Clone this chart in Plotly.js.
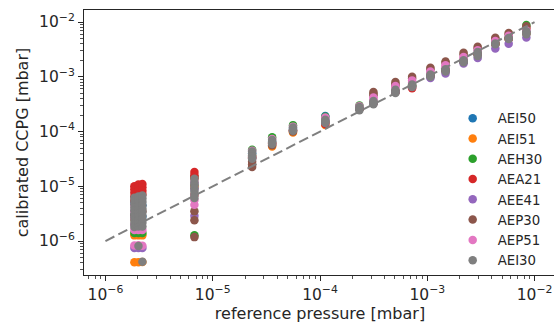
<!DOCTYPE html>
<html><head><meta charset="utf-8">
<script src="https://cdn.plot.ly/plotly-3.0.1.min.js"></script>
<style>html,body{margin:0;padding:0;overflow:hidden;background:#fff}#chart{width:556px;height:327px}</style>
</head><body><div id="chart"></div><script>
// reference pressures [mbar] of the measurement points
const refP = [1.86e-6, 2.03e-6, 2.21e-6, 6.75e-6, 2.33e-5, 3.58e-5, 5.6e-5, 1.12e-4, 2.33e-4, 3.15e-4,
              5.05e-4, 7.22e-4, 1.07e-3, 1.48e-3, 2.18e-3, 2.95e-3, 4.31e-3, 5.74e-3, 8.39e-3];

const seriesNames  = ['AEI50','AEI51','AEH30','AEA21','AEE41','AEP30','AEP51','AEI30'];
const seriesColors = ['#1f77b4','#ff7f0e','#2ca02c','#d62728','#9467bd','#8c564b','#e377c2','#7f7f7f'];

// calibrated CCPG readings [mbar], one list per reference pressure
const AEI50 = [[3.0e-6,5.0e-6],[3.2e-6],[2.8e-6,4.5e-6],[1.1e-5,9e-6],[4.0e-5,3.6e-5],[6.6e-5],[1.12e-4],[1.92e-4,1.6e-4],[2.7e-4],[3.4e-4],
               [5.4e-4],[6.8e-4],[1.05e-3],[1.3e-3],[1.9e-3],[2.6e-3],[4.0e-3],[5.0e-3],[6.4e-3]];
const AEI51 = [[1.27e-6,4.1e-7,2.5e-6],[1.27e-6,4.1e-7],[1.27e-6,4.15e-7],[1.0e-5,7e-6],[3.6e-5],[5.35e-5,6.2e-5],[9.6e-5,1.05e-4],[1.32e-4,1.5e-4],[2.6e-4],[3.4e-4],
               [5.3e-4],[6.7e-4],[1.05e-3],[1.3e-3],[1.9e-3],[2.6e-3],[3.95e-3],[4.9e-3],[6.2e-3]];
const AEH30 = [[1.4e-6],[1.4e-6],[1.4e-6],[1.27e-6,1.5e-5],[4.65e-5],[7.9e-5],[1.31e-4],[1.86e-4],[3.0e-4],[3.4e-4],
               [5.5e-4],[7e-4],[1.08e-3],[1.35e-3],[1.95e-3],[2.7e-3],[4.2e-3],[5.2e-3],[8.8e-3]];
const AEA21 = [[1.0e-5,8.8e-6,7.6e-6,6.5e-6,5.5e-6],[1.08e-5,9.4e-6,8.2e-6,7.0e-6,6e-6],[1.1e-5,9.6e-6,8.3e-6,7.2e-6],[1.82e-5,1.6e-5,1.4e-5],[3.4e-5],[6.0e-5],[1.05e-4],[1.38e-4],[2.6e-4],[3.3e-4],
               [5.3e-4],[6.2e-4],[1.03e-3],[1.3e-3],[1.9e-3],[2.6e-3],[4.0e-3],[5.0e-3],[7.6e-3]];
const AEE41 = [[7.45e-7],[7.45e-7],[7.45e-7],[2.9e-6],[3.3e-5],[6.0e-5],[1.05e-4],[1.45e-4],[2.6e-4],[3.3e-4],
               [5.3e-4],[6.6e-4],[9.5e-4],[1.15e-3],[1.75e-3],[2.2e-3],[3.28e-3],[4.0e-3],[5.2e-3]];
const AEP30 = [[3.0e-6],[2.5e-6],[3.5e-6],[3.5e-6,2.4e-6,1.18e-6],[3.2e-5,2.8e-5,2.5e-5,2.25e-5],[5.6e-5],[1.0e-4],[1.5e-4],[2.6e-4],[5.3e-4,4.9e-4,4.6e-4],
               [8.0e-4,7.4e-4,7.0e-4],[1.0e-3,9.3e-4],[1.47e-3,1.38e-3],[1.9e-3,1.8e-3],[2.75e-3,2.55e-3],[3.55e-3,3.3e-3],[5.15e-3,4.9e-3],[6.3e-3,6.0e-3],[8.4e-3]];
const AEP51 = [[4.5e-6,3.5e-6,2.6e-6,2.0e-6,1.6e-6,8.3e-7],[1.6e-6,8.4e-7],[1.6e-6,8.2e-7],[1.2e-5,9e-6,7e-6,5.6e-6,4.6e-6],[4.45e-5],[7.3e-5],[1.23e-4],[1.8e-4,1.7e-4],[2.9e-4],[4.2e-4,3.9e-4],
               [6.8e-4,6.3e-4],[8.6e-4,7.8e-4],[1.25e-3,1.17e-3],[1.62e-3,1.5e-3],[2.3e-3,2.15e-3],[3.05e-3],[4.5e-3],[5.6e-3],[7.0e-3]];
const AEI30 = [[6.2e-6,5.4e-6,4.7e-6,4.1e-6,3.6e-6,3.1e-6,2.7e-6,2.35e-6,2.05e-6,1.8e-6],
               [6.5e-6,5.7e-6,5.0e-6,4.3e-6,3.7e-6,3.2e-6,2.8e-6,2.4e-6,2.1e-6,1.85e-6,8.1e-7],
               [6.8e-6,6.0e-6,5.2e-6,4.5e-6,3.9e-6,3.4e-6,2.9e-6,2.5e-6,2.15e-6,1.85e-6,4.2e-7],
               [1.38e-5,1.2e-5,1.05e-5,9.2e-6,8.0e-6,7.0e-6,6.1e-6],[4.3e-5,3.9e-5,3.5e-5,3.2e-5],[7.0e-5,6.4e-5,5.9e-5],[1.18e-4,1.08e-4,1.03e-4],
               [1.65e-4,1.52e-4,1.45e-4],[2.8e-4,2.6e-4,2.45e-4],[3.6e-4,3.35e-4,3.15e-4],[5.8e-4,5.4e-4,5.05e-4],[7.2e-4,6.8e-4,6.5e-4],
               [1.1e-3,1.03e-3,1.0e-3],[1.38e-3,1.3e-3,1.25e-3],[2.0e-3,1.88e-3,1.85e-3],[2.85e-3,2.6e-3,2.4e-3],[4.05e-3,3.95e-3],[5.1e-3,4.9e-3],[6.8e-3,6.3e-3,6.0e-3]];

const identityLine = [1e-6, 1e-2];
const tickVals = [1e-6, 1e-5, 1e-4, 1e-3, 1e-2];
const tickText = ['10<sup>−6</sup>','10<sup>−5</sup>','10<sup>−4</sup>','10<sup>−3</sup>','10<sup>−2</sup>'];

const seriesData = [AEI50, AEI51, AEH30, AEA21, AEE41, AEP30, AEP51, AEI30];
const FONT = 'DejaVu Sans, sans-serif';

const traces = seriesData.map((d, k) => {
  const x = [], y = [];
  d.forEach((vals, i) => vals.forEach(v => { x.push(refP[i]); y.push(v); }));
  return {type:'scatter', mode:'markers', name: seriesNames[k], x, y,
          marker:{color: seriesColors[k], size:8.5, line:{width:0}}};
});
traces.push({type:'scatter', mode:'lines', x: identityLine, y: identityLine, showlegend:false,
             line:{color:'#7f7f7f', width:2, dash:'10px,4.5px'}, hoverinfo:'skip'});

const minorVals = [];
for (let e = -8; e <= -1; e++) for (let m = 2; m <= 9; m++) minorVals.push(m * Math.pow(10, e));

function axis(titleText, range, standoff) {
  return {
    type:'log', range, showgrid:false, zeroline:false,
    showline:true, mirror:true, linecolor:'#262626', linewidth:1.1,
    ticks:'outside', ticklen:5, tickwidth:1, tickcolor:'#262626',
    tickmode:'array', tickvals:tickVals, ticktext:tickText,
    tickfont:{family:FONT, size:15.5, color:'#262626'},
    minor:{tickmode:'array', tickvals:minorVals, ticks:'outside', ticklen:3, tickwidth:0.8, tickcolor:'#262626', showgrid:false},
    title:{text:titleText, font:{family:FONT, size:16, color:'#262626'}, standoff}
  };
}

const layout = {
  width:556, height:327,
  margin:{l:84, r:0, t:10, b:52, pad:0},
  paper_bgcolor:'#fff', plot_bgcolor:'#fff',
  font:{family:FONT, color:'#262626'},
  xaxis: axis('reference pressure [mbar]', [-6.2, -1.8], 4),
  yaxis: axis('calibrated CCPG [mbar]', [-6.62, -1.78], 6),
  showlegend:true,
  legend:{x:0.7705, y:0.649, xanchor:'left', yanchor:'top', bgcolor:'rgba(0,0,0,0)', borderwidth:0,
          font:{family:FONT, size:13.3, color:'#262626'}, itemwidth:40},
  hovermode:false
};

Plotly.newPlot('chart', traces, layout, {staticPlot:true, displayModeBar:false});
</script></body></html>
